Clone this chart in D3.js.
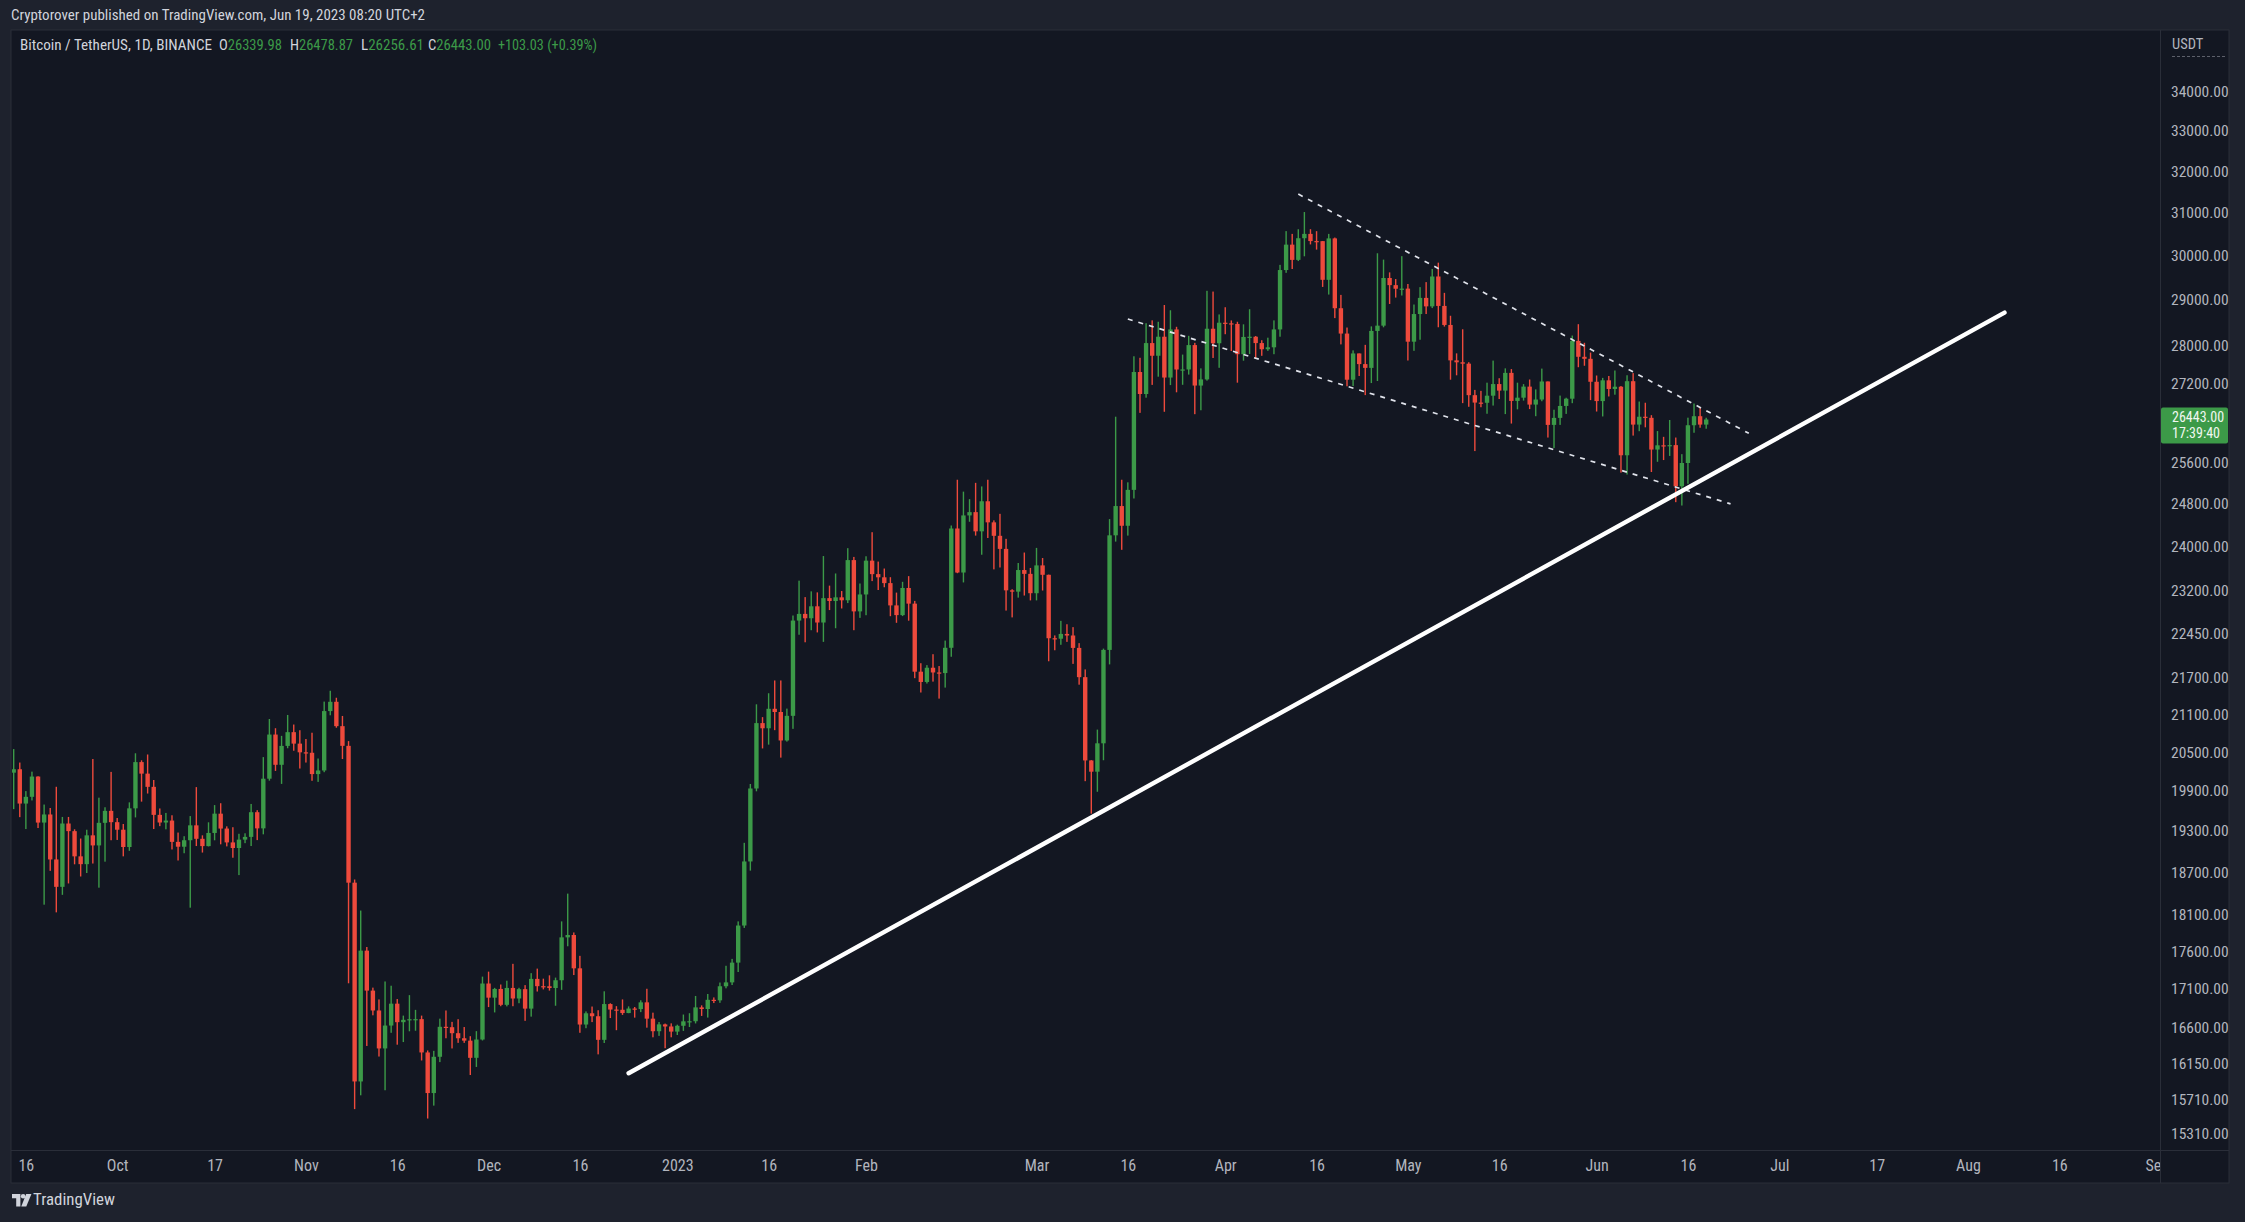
<!DOCTYPE html>
<html><head><meta charset="utf-8">
<script src="https://cdn.jsdelivr.net/npm/d3@7"></script>
<style>html,body{margin:0;padding:0;background:#1e222d;overflow:hidden}</style>
</head><body><svg id="c" width="2245" height="1222"></svg>
<script>
// ---------- DATA (BTC/USDT daily, Binance) ----------
const firstDay = "2022-09-14";
// rows: [open, high, low, close]
const sep2022 = [[20173,20541,19617,20226],[20226,20330,19497,19701],[19701,19890,19320,19803],[19803,20189,19748,20113],[20113,20117,19335,19416],[19416,19686,18232,19537],[19537,19634,18711,18875],[18875,19956,18125,18483],[18483,19500,18370,19402],[19402,19500,18531,19289],[19289,19316,18805,18920],[18920,19180,18630,18807],[18807,19310,18680,19227],[19227,20385,18816,19079],[19079,19790,18471,19412],[19412,19645,18843,19591],[19591,20185,19155,19422]];
const oct2022 = [[19422,19484,19159,19310],[19310,19395,18920,19056],[19056,19719,19000,19629],[19629,20475,19493,20337],[20337,20365,19730,20158],[20158,20456,19853,19955],[19955,20060,19320,19531],[19531,19627,19363,19417],[19417,19560,19316,19446],[19446,19525,19020,19131],[19131,19268,18860,19060],[19060,19214,18965,19155],[19155,19513,18190,19375],[19375,19951,19070,19176],[19176,19227,18975,19069],[19069,19420,19064,19262],[19262,19678,19154,19549],[19549,19706,19095,19327],[19327,19360,19065,19123],[19123,19347,18900,19041],[19041,19250,18650,19164],[19164,19257,19112,19204],[19204,19695,19070,19571],[19571,19601,19157,19330],[19330,20415,19242,20080],[20080,21020,20050,20771],[20771,20872,20200,20295],[20295,20750,20000,20591],[20591,21085,20554,20809],[20809,20931,20515,20627],[20627,20840,20237,20490]];
const nov2022 = [[20490,20700,20330,20483],[20483,20800,20048,20151],[20151,20393,20031,20207],[20207,21302,20180,21148],[21148,21480,21080,21299],[21299,21365,20880,20905],[20905,21069,20385,20592],[20592,20667,17166,18542],[18542,18587,15588,15922],[15922,18150,15754,17601],[17601,17650,16361,17070],[17070,17109,16750,16812],[16812,16955,16229,16330],[16330,17190,15815,16619],[16619,17134,16527,16900],[16900,16960,16377,16662],[16662,16746,16410,16692],[16692,17011,16546,16700],[16700,16820,16553,16701],[16701,16746,16180,16280],[16280,16305,15476,15781],[15781,16300,15630,16226],[16226,16707,16160,16603],[16603,16812,16458,16598],[16598,16666,16330,16522],[16522,16700,16400,16458],[16458,16600,16400,16428],[16428,16484,16001,16213],[16213,16548,16100,16442],[16442,17254,16430,17163]];
const dec2022 = [[17163,17320,16856,16978],[16978,17106,16787,17092],[17092,17150,16867,16885],[16885,17200,16865,17105],[17105,17424,16867,16967],[16967,17107,16906,17089],[17089,17142,16679,16836],[16836,17300,16733,17224],[17224,17360,17058,17128],[17128,17227,17086,17127],[17127,17271,17070,17104],[17104,17241,16873,17206],[17206,18000,17080,17781],[17781,18387,17660,17813],[17813,17848,17275,17364],[17364,17531,16527,16632],[16632,16800,16585,16776],[16776,16863,16663,16738],[16738,16815,16256,16438],[16438,17061,16398,16895],[16895,16905,16715,16824],[16824,16868,16560,16821],[16821,16955,16755,16779],[16779,16865,16777,16837],[16837,16857,16720,16830],[16830,16944,16791,16917],[16917,17094,16592,16707],[16707,16784,16470,16547],[16547,16664,16488,16634],[16634,16644,16333,16607],[16607,16647,16470,16542]];
const jan2023 = [[16542,16630,16499,16616],[16616,16760,16551,16673],[16673,16777,16600,16674],[16674,17000,16646,16852],[16852,16878,16742,16831],[16831,17026,16721,16950],[16950,16981,16908,16943],[16943,17176,16911,17127],[17127,17398,17100,17178],[17178,17490,17143,17440],[17440,18000,17315,17943],[17943,19117,17910,18846],[18846,19999,18714,19930],[19930,21258,19887,20954],[20954,21050,20551,20871],[20871,21439,20611,21185],[21185,21650,20841,21133],[21133,21650,20407,20677],[20677,21188,20659,21071],[21071,22755,20862,22667],[22667,23371,22422,22783],[22783,23078,22293,22707],[22707,23180,22500,22916],[22916,23162,22462,22633],[22633,23816,22300,23060],[23060,23282,22850,23009],[23009,23500,22534,23074],[23074,23186,22878,23022],[23022,23960,22973,23742],[23742,23800,22500,22827],[22827,23320,22714,23125]];
const feb2023 = [[23125,23812,22760,23732],[23732,24255,23363,23488],[23488,23715,23204,23431],[23431,23589,23253,23327],[23327,23433,22743,22932],[22932,23158,22628,22762],[22762,23350,22745,23240],[23240,23452,22665,22963],[22963,23011,21688,21796],[21796,21938,21451,21625],[21625,21906,21599,21862],[21862,22090,21631,21783],[21783,21890,21351,21773],[21773,22322,21532,22199],[22199,24380,22047,24324],[24324,25250,23505,23517],[23517,25021,23339,24569],[24569,24877,24450,24631],[24631,25190,24192,24271],[24271,25121,23840,24837],[24837,25250,24148,24439],[24439,24476,23574,24188],[24188,24599,23608,23947],[23947,24132,22841,23198],[23198,23218,22722,23175],[23175,23689,23069,23562],[23562,23880,23106,23493],[23493,23600,23020,23147]];
const mar2023 = [[23147,23965,23020,23646],[23646,23780,23195,23476],[23476,23479,21971,22362],[22362,22410,22157,22354],[22354,22662,22250,22436],[22436,22603,22300,22409],[22409,22553,21927,22197],[22197,22278,21580,21705],[21705,21834,20042,20363],[20363,20367,19549,20188],[20188,20850,19880,20632],[20632,22185,20366,22163],[22163,24500,21918,24197],[24197,26500,24081,24746],[24746,25250,23930,24375],[24375,25200,24192,25055],[25055,27756,24890,27423],[27423,27724,26578,26965],[26965,28468,26889,28038],[28038,28531,27154,27767],[27767,28500,27325,28175],[28175,28868,26600,27307],[27307,28752,27150,28333],[28333,28390,27000,27476],[27476,27792,27156,27477],[27477,28194,27369,27995],[27995,28043,26551,27140],[27140,27500,26631,27268],[27268,29184,27243,28348],[28348,29167,27720,28034],[28034,28660,27512,28479]];
const apr2023 = [[28479,28819,28229,28465],[28465,28529,27868,28452],[28452,28500,27200,27800],[27800,28444,27662,28170],[28170,28775,27805,28175],[28175,28190,27711,28038],[28038,28100,27766,27906],[27906,28154,27871,27947],[27947,28530,27800,28333],[28333,29770,28175,29652],[29652,30550,29589,30235],[30235,30485,29676,29884],[29884,30594,29857,30384],[30384,31000,29966,30485],[30485,30595,30240,30318],[30318,30549,30120,30316],[30316,30320,29271,29431],[29431,30485,29100,30380],[30380,30400,28580,28797],[28797,29093,28010,28243],[28243,28374,27125,27262],[27262,27882,27130,27816],[27816,27816,27340,27590],[27590,28000,26942,27510],[27510,28399,27192,28300],[28300,30036,27235,28415],[28415,29890,28379,29472],[29472,29599,28891,29311],[29311,29448,29033,29230],[29230,29969,29079,29233]];
const may2023 = [[29233,29337,27666,28068],[28068,28879,27872,28669],[28669,29266,28110,29026],[29026,29379,28669,28838],[28838,29677,28800,29506],[29506,29820,28380,28848],[28848,29138,28395,28430],[28430,28631,27262,27669],[27669,27818,27354,27628],[27628,28336,26777,27599],[27599,27630,26702,26941],[26941,27050,25811,26788],[26788,27030,26693,26784],[26784,27200,26560,26930],[26930,27664,26727,27171],[27171,27293,26861,27035],[27035,27500,26553,27405],[27405,27485,26361,26822],[26822,27200,26650,26889],[26889,27170,26829,27118],[27118,27266,26655,26747],[26747,27060,26510,26851],[26851,27495,26816,27225],[27225,27225,26080,26334],[26334,26642,25871,26476],[26476,26932,26334,26719],[26719,26888,26557,26868],[26868,28200,26776,28085],[28085,28447,27524,27745],[27745,28044,27555,27702],[27702,27835,26839,27219]];
const jun2023 = [[27219,27350,26605,26819],[26819,27300,26505,27249],[27249,27340,26914,27069],[27069,27455,26951,27116],[27116,27130,25388,25728],[25728,27355,25351,27231],[27231,27400,26119,26340],[26340,26810,26207,26499],[26499,26785,26285,26477],[26477,26531,25400,25841],[25841,26210,25600,25925],[25925,26094,25634,25906],[25906,26433,25715,25929],[25929,26080,24820,25124],[25124,25750,24756,25576],[25576,26480,25172,26327],[26327,26769,26176,26510],[26510,26675,26277,26340],[26339.98,26478.87,26256.61,26443.00]];

const priceTicks = [34000,33000,32000,31000,30000,29000,28000,27200,25600,24800,24000,23200,22450,21700,21100,20500,19900,19300,18700,18100,17600,17100,16600,16150,15710,15310];
const timeTickDates = ["2022-09-16","2022-10-01","2022-10-17","2022-11-01","2022-11-16","2022-12-01","2022-12-16","2023-01-01","2023-01-16","2023-02-01","2023-03-01","2023-03-16","2023-04-01","2023-04-16","2023-05-01","2023-05-16","2023-06-01","2023-06-16","2023-07-01","2023-07-17","2023-08-01","2023-08-16","2023-09-01"];
const timeTickLabels = ["16","Oct","17","Nov","16","Dec","16","2023","16","Feb","Mar","16","Apr","16","May","16","Jun","16","Jul","17","Aug","16","Sep"];

const lineSolid = [["2022-12-24",16022],["2023-08-07",28700]];
const lineUpper = [["2023-04-13",31430],["2023-06-26",26164]];
const lineLower = [["2023-03-16",28560],["2023-06-23",24787]];

const headerText = "Cryptorover published on TradingView.com, Jun 19, 2023 08:20 UTC+2";
const legendTitle = "Bitcoin / TetherUS, 1D, BINANCE";
const legendKeys = ["O","H","L","C"];
const legendVals = ["26339.98","26478.87","26256.61","26443.00"];
const legendChange = "+103.03 (+0.39%)";
const lastPrice = 26443.00;
const countdown = "17:39:40";
const currency = "USDT";

// ---------- LAYOUT ----------
const W = 2245, H = 1222;
const paneL = 11, paneT = 30, paneR = 2160, paneB = 1150, frameR = 2229, frameB = 1183;
const UP = "#3c9a48", DOWN = "#ee4a3c";
const TXT = "#d1d4dc", AX = "#b2b5be", BORDER = "#2a2e39";
const FN = "'Liberation Sans Narrow','Roboto Condensed','Liberation Sans',Arial,sans-serif";

const parse = d3.utcParse("%Y-%m-%d");
const rows = [].concat(sep2022, oct2022, nov2022, dec2022, jan2023, feb2023, mar2023, apr2023, may2023, jun2023);
const start = parse(firstDay);
const candles = rows.map((r, i) => ({date: d3.utcDay.offset(start, i), o: r[0], h: r[1], l: r[2], c: r[3]}));

const x = d3.scaleUtc().domain([parse("2023-01-01"), parse("2023-06-19")]).range([677.3, 1706.2]);
const y = d3.scaleLog().domain([15310, 34000]).range([1132.6, 91.5]);
const step = x(parse("2023-01-02")) - x(parse("2023-01-01"));
const bw = step * 0.72;

const svg = d3.select("#c");
svg.append("rect").attr("width", W).attr("height", H).attr("fill", "#1e222d");
svg.append("rect").attr("x", paneL).attr("y", paneT).attr("width", frameR - paneL).attr("height", frameB - paneT)
  .attr("fill", "#131722").attr("stroke", BORDER).attr("stroke-width", 1);
svg.append("line").attr("x1", paneR + 0.5).attr("x2", paneR + 0.5).attr("y1", paneT).attr("y2", frameB).attr("stroke", BORDER);
svg.append("line").attr("x1", paneL).attr("x2", frameR).attr("y1", paneB + 0.5).attr("y2", paneB + 0.5).attr("stroke", BORDER);

svg.append("defs").append("clipPath").attr("id", "pane").append("rect")
  .attr("x", paneL + 1).attr("y", paneT + 1).attr("width", paneR - paneL - 1).attr("height", paneB - paneT - 1);
const plot = svg.append("g").attr("clip-path", "url(#pane)");

// candles
const cg = plot.append("g");
const cs = cg.selectAll("g").data(candles).join("g");
cs.append("rect")
  .attr("x", d => x(d.date) - 0.7).attr("width", 1.4)
  .attr("y", d => y(d.h)).attr("height", d => Math.max(1, y(d.l) - y(d.h)))
  .attr("fill", d => d.c >= d.o ? UP : DOWN);
cs.append("rect")
  .attr("x", d => x(d.date) - bw / 2).attr("width", bw)
  .attr("y", d => y(Math.max(d.o, d.c)))
  .attr("height", d => Math.max(1.2, Math.abs(y(d.o) - y(d.c))))
  .attr("fill", d => d.c >= d.o ? UP : DOWN);

// trend lines
function drawLine(pts, attrs) {
  const l = plot.append("line")
    .attr("x1", x(parse(pts[0][0]))).attr("y1", y(pts[0][1]))
    .attr("x2", x(parse(pts[1][0]))).attr("y2", y(pts[1][1]));
  Object.entries(attrs).forEach(([k, v]) => l.attr(k, v));
}
drawLine(lineUpper, {stroke: "#e0e3eb", "stroke-width": 1.7, "stroke-dasharray": "5 6"});
drawLine(lineLower, {stroke: "#e0e3eb", "stroke-width": 1.7, "stroke-dasharray": "5 6"});
drawLine(lineSolid, {stroke: "#ffffff", "stroke-width": 4.4, "stroke-linecap": "round"});

// price axis
const yAxis = d3.axisRight(y).tickValues(priceTicks).tickFormat(d => d.toFixed(2)).tickSize(0).tickPadding(0);
const ya = svg.append("g").attr("transform", `translate(${paneR + 11},0)`).call(yAxis);
ya.select(".domain").remove();
ya.selectAll("text").attr("fill", AX).attr("font-family", FN).attr("font-size", 15.5).attr("dy", "0.35em");

svg.append("text").attr("x", paneR + 12).attr("y", 45).attr("fill", AX).attr("font-family", FN)
  .attr("font-size", 14.5).attr("dominant-baseline", "middle").text(currency);
svg.append("line").attr("x1", paneR + 12).attr("x2", paneR + 66).attr("y1", 56.5).attr("y2", 56.5)
  .attr("stroke", "#5d606b").attr("stroke-dasharray", "3 2");

// last price tag
const ty = y(lastPrice);
svg.append("rect").attr("x", paneR + 1).attr("y", ty - 12).attr("width", frameR - paneR - 2).attr("height", 36)
  .attr("rx", 2).attr("fill", UP);
svg.append("text").attr("x", paneR + 12).attr("y", ty - 1.5).attr("fill", "#f0f7f0").attr("font-family", FN)
  .attr("font-size", 14).attr("dominant-baseline", "middle").text(lastPrice.toFixed(2));
svg.append("text").attr("x", paneR + 12).attr("y", ty + 14.5).attr("fill", "#f0f7f0").attr("font-family", FN)
  .attr("font-size", 14).attr("dominant-baseline", "middle").text(countdown);

// time axis
svg.append("defs").append("clipPath").attr("id", "tax").append("rect")
  .attr("x", paneL).attr("y", paneB).attr("width", paneR - paneL).attr("height", frameB - paneB);
const labelMap = new Map(timeTickDates.map((d, i) => [d, timeTickLabels[i]]));
const fmt = d3.utcFormat("%Y-%m-%d");
const xAxis = d3.axisBottom(x).tickValues(timeTickDates.map(parse)).tickFormat(d => labelMap.get(fmt(d))).tickSize(0).tickPadding(0);
const xa = svg.append("g").attr("clip-path", "url(#tax)").append("g").attr("transform", `translate(0,${paneB + 15.5})`).call(xAxis);
xa.select(".domain").remove();
xa.selectAll("text").attr("fill", AX).attr("font-family", FN).attr("font-size", 16).attr("dy", "0.35em");

// header
svg.append("text").attr("x", 11).attr("y", 16).attr("fill", TXT).attr("font-family", FN).attr("font-size", 15.5)
  .attr("dominant-baseline", "middle").attr("textLength", 414).attr("lengthAdjust", "spacingAndGlyphs").text(headerText);

// legend
const lg = svg.append("g").attr("font-family", FN).attr("font-size", 15).attr("dominant-baseline", "middle");
lg.append("text").attr("x", 20).attr("y", 46).attr("fill", TXT).attr("textLength", 192).attr("lengthAdjust", "spacingAndGlyphs").text(legendTitle);
const segX = [219, 290, 361, 428];
legendKeys.forEach((k, i) => {
  const t = lg.append("text").attr("x", segX[i]).attr("y", 46).attr("textLength", 63).attr("lengthAdjust", "spacingAndGlyphs");
  t.append("tspan").attr("fill", TXT).text(k);
  t.append("tspan").attr("fill", UP).text(legendVals[i]);
});
lg.append("text").attr("x", 498).attr("y", 46).attr("fill", UP).attr("textLength", 99).attr("lengthAdjust", "spacingAndGlyphs").text(legendChange);

// TradingView logo
const logo = svg.append("g").attr("transform", "translate(12,1194) scale(1.05)").attr("fill", TXT);
logo.append("path").attr("d", "M0 0 H8 V12 H4 V4 H0 Z");
logo.append("circle").attr("cx", 10.6).attr("cy", 2.2).attr("r", 2.2);
logo.append("path").attr("d", "M13.5 0 H18.5 L13.6 12 H8.8 Z");
svg.append("text").attr("x", 33).attr("y", 1201).attr("fill", TXT).attr("font-family", FN).attr("font-size", 16)
  .attr("dominant-baseline", "middle").attr("textLength", 82).attr("lengthAdjust", "spacingAndGlyphs").text("TradingView");
</script></body></html>
